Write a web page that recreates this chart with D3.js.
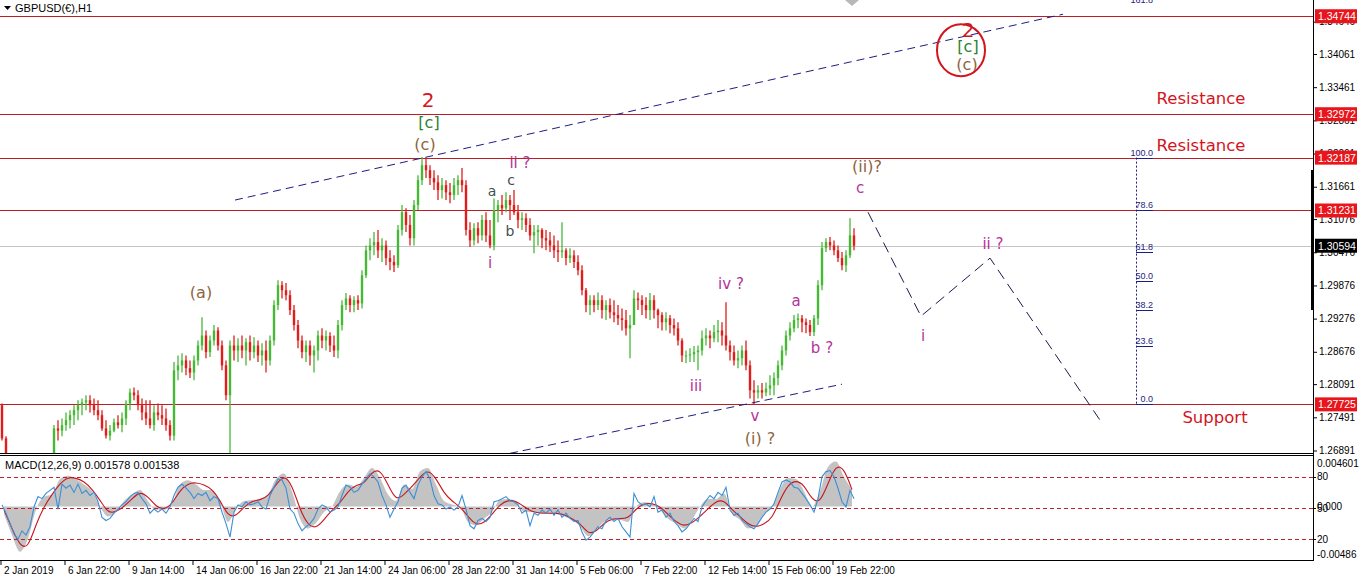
<!DOCTYPE html>
<html>
<head>
<meta charset="utf-8">
<script src="https://cdn.jsdelivr.net/npm/d3@7"></script>
<style>
  html, body { margin: 0; padding: 0; background: #fff; }
  svg { display: block; font-family: "Liberation Sans", Arial, sans-serif; }
</style>
</head>
<body>
<svg id="chart" width="1361" height="581"></svg>
<script>
// GBPUSD H1, 2 Jan – 20 Feb 2019, drawn as 4-hour bars (hour index 0 = 2 Jan 06:00)
const barHours = 4;
const firstOpen = 1.2771;
const highs = [
  1.2774,1.2715,1.2680,1.2662,1.2653,1.2635,1.2639,1.2644,1.2653,1.2657,
  1.2662,1.2668,1.2675,1.2735,1.2744,1.2747,1.2758,1.2762,1.2771,1.2780,
  1.2783,1.2789,1.2789,1.2783,1.2780,1.2762,1.2744,1.2735,1.2747,1.2753,
  1.2758,1.2780,1.2801,1.2803,1.2798,1.2783,1.2780,1.2780,1.2771,1.2774,
  1.2771,1.2765,1.2744,1.2849,1.2861,1.2865,1.2861,1.2852,1.2861,1.2888,
  1.2930,1.2906,1.2897,1.2916,1.2912,1.2888,1.2852,1.2888,1.2897,1.2892,
  1.2897,1.2892,1.2897,1.2894,1.2888,1.2883,1.2888,1.2897,1.2961,1.2997,
  1.2995,1.2992,1.2979,1.2952,1.2925,1.2897,1.2888,1.2888,1.2879,1.2906,
  1.2910,1.2906,1.2903,1.2897,1.2925,1.2961,1.2974,1.2970,1.2968,1.2970,
  1.3015,1.3060,1.3073,1.3084,1.3088,1.3073,1.3069,1.3051,1.3042,1.3097,
  1.3133,1.3127,1.3115,1.3142,1.3187,1.3220,1.3218,1.3205,1.3196,1.3187,
  1.3182,1.3178,1.3173,1.3182,1.3187,1.3200,1.3178,1.3102,1.3100,1.3102,
  1.3115,1.3120,1.3106,1.3145,1.3142,1.3151,1.3156,1.3151,1.3160,1.3133,
  1.3120,1.3118,1.3109,1.3097,1.3097,1.3091,1.3088,1.3084,1.3078,1.3069,
  1.3102,1.3055,1.3055,1.3051,1.3042,1.3024,1.2983,1.2970,1.2970,1.2975,
  1.2970,1.2961,1.2964,1.2961,1.2952,1.2946,1.2943,1.2934,1.2979,1.2975,
  1.2970,1.2966,1.2974,1.2970,1.2946,1.2939,1.2939,1.2934,1.2928,1.2921,
  1.2892,1.2870,1.2874,1.2878,1.2879,1.2906,1.2910,1.2906,1.2916,1.2925,
  1.2921,1.2957,1.2888,1.2879,1.2870,1.2879,1.2888,1.2852,1.2816,1.2807,
  1.2811,1.2812,1.2825,1.2830,1.2852,1.2879,1.2906,1.2921,1.2934,1.2937,
  1.2934,1.2928,1.2925,1.2934,1.2997,1.3066,1.3073,1.3075,1.3069,1.3060,
  1.3048,1.3051,1.3109,1.3091
];
const lows = [
  1.2707,1.2668,1.2644,1.2635,1.2490,1.2599,1.2613,1.2617,1.2621,1.2631,
  1.2635,1.2642,1.2650,1.2671,1.2707,1.2715,1.2725,1.2729,1.2735,1.2744,
  1.2753,1.2762,1.2758,1.2753,1.2744,1.2725,1.2711,1.2707,1.2722,1.2729,
  1.2722,1.2735,1.2762,1.2780,1.2762,1.2744,1.2735,1.2729,1.2725,1.2744,
  1.2735,1.2725,1.2707,1.2707,1.2816,1.2830,1.2825,1.2820,1.2816,1.2843,
  1.2870,1.2856,1.2858,1.2879,1.2870,1.2834,1.2780,1.2671,1.2852,1.2849,
  1.2856,1.2843,1.2852,1.2856,1.2849,1.2843,1.2830,1.2843,1.2879,1.2943,
  1.2964,1.2961,1.2934,1.2906,1.2874,1.2856,1.2849,1.2843,1.2830,1.2852,
  1.2874,1.2870,1.2867,1.2858,1.2856,1.2906,1.2943,1.2939,1.2939,1.2943,
  1.2946,1.3001,1.3033,1.3042,1.3037,1.3030,1.3024,1.3015,1.3012,1.3019,
  1.3078,1.3084,1.3060,1.3060,1.3124,1.3169,1.3182,1.3169,1.3160,1.3142,
  1.3145,1.3142,1.3136,1.3142,1.3151,1.3156,1.3078,1.3057,1.3060,1.3064,
  1.3069,1.3066,1.3055,1.3051,1.3102,1.3115,1.3120,1.3106,1.3115,1.3091,
  1.3088,1.3084,1.3069,1.3046,1.3060,1.3055,1.3051,1.3048,1.3037,1.3030,
  1.3037,1.3024,1.3028,1.3019,1.3006,1.2970,1.2939,1.2934,1.2939,1.2943,
  1.2928,1.2925,1.2928,1.2921,1.2916,1.2906,1.2897,1.2856,1.2916,1.2943,
  1.2934,1.2928,1.2925,1.2928,1.2910,1.2906,1.2906,1.2901,1.2897,1.2879,
  1.2849,1.2847,1.2849,1.2849,1.2834,1.2861,1.2879,1.2874,1.2885,1.2885,
  1.2879,1.2870,1.2852,1.2843,1.2838,1.2843,1.2834,1.2783,1.2773,1.2783,
  1.2783,1.2787,1.2789,1.2789,1.2807,1.2834,1.2861,1.2888,1.2903,1.2910,
  1.2903,1.2901,1.2896,1.2896,1.2916,1.2979,1.3048,1.3051,1.3042,1.3030,
  1.3015,1.3012,1.3037,1.3051
];
const closes = [
  1.2711,1.2675,1.2653,1.2644,1.2617,1.2626,1.2631,1.2635,1.2642,1.2650,
  1.2653,1.2660,1.2668,1.2729,1.2725,1.2735,1.2744,1.2753,1.2762,1.2771,
  1.2776,1.2780,1.2771,1.2762,1.2753,1.2729,1.2716,1.2725,1.2740,1.2735,
  1.2747,1.2774,1.2794,1.2789,1.2771,1.2758,1.2747,1.2735,1.2758,1.2753,
  1.2747,1.2735,1.2716,1.2834,1.2843,1.2852,1.2838,1.2830,1.2852,1.2879,
  1.2897,1.2867,1.2888,1.2906,1.2879,1.2843,1.2789,1.2879,1.2870,1.2879,
  1.2870,1.2885,1.2867,1.2879,1.2861,1.2870,1.2852,1.2888,1.2952,1.2988,
  1.2979,1.2970,1.2943,1.2916,1.2888,1.2867,1.2879,1.2861,1.2870,1.2897,
  1.2888,1.2896,1.2879,1.2870,1.2916,1.2952,1.2964,1.2952,1.2961,1.2955,
  1.3006,1.3051,1.3060,1.3066,1.3051,1.3060,1.3037,1.3030,1.3024,1.3088,
  1.3120,1.3097,1.3073,1.3133,1.3178,1.3205,1.3196,1.3182,1.3174,1.3160,
  1.3169,1.3156,1.3151,1.3169,1.3178,1.3169,1.3088,1.3069,1.3091,1.3078,
  1.3106,1.3078,1.3060,1.3124,1.3133,1.3127,1.3142,1.3133,1.3120,1.3106,
  1.3109,1.3097,1.3078,1.3084,1.3088,1.3073,1.3069,1.3060,1.3051,1.3048,
  1.3051,1.3037,1.3042,1.3030,1.3015,1.2979,1.2952,1.2961,1.2952,1.2961,
  1.2943,1.2952,1.2939,1.2934,1.2928,1.2925,1.2910,1.2916,1.2964,1.2961,
  1.2952,1.2943,1.2961,1.2943,1.2934,1.2921,1.2928,1.2916,1.2910,1.2888,
  1.2861,1.2861,1.2863,1.2867,1.2870,1.2892,1.2897,1.2892,1.2903,1.2906,
  1.2897,1.2879,1.2867,1.2852,1.2856,1.2870,1.2843,1.2798,1.2794,1.2798,
  1.2794,1.2801,1.2807,1.2820,1.2843,1.2870,1.2897,1.2910,1.2925,1.2928,
  1.2921,1.2916,1.2903,1.2928,1.2988,1.3055,1.3066,1.3060,1.3051,1.3037,
  1.3024,1.3042,1.3078,1.30594
];

// MACD(12,26,9): main (histogram) and signal, one value every 8 hours
const macdStep = 8;
const macdHist = [
  -0.0007,-0.0026,-0.0041,-0.0029,-0.0003,0.0009,0.0011,0.0025,0.0028,0.0025,
  0.0020,0.0014,0.0000,-0.0009,-0.0005,0.0005,0.0011,0.0015,0.0005,-0.0003,
  -0.0003,0.0002,0.0020,0.0024,0.0020,0.0015,0.0015,0.0005,-0.0014,-0.0002,
  0.0005,0.0006,0.0007,0.0011,0.0025,0.0030,0.0014,-0.0011,-0.0020,-0.0015,
  -0.0005,0.0000,0.0014,0.0020,0.0018,0.0026,0.0035,0.0026,0.0011,0.0005,
  0.0020,0.0016,0.0032,0.0035,0.0020,0.0005,0.0002,0.0000,-0.0014,-0.0017,
  -0.0011,-0.0005,0.0006,0.0007,0.0005,-0.0005,-0.0005,-0.0006,-0.0005,-0.0006,
  -0.0009,-0.0012,-0.0018,-0.0027,-0.0021,-0.0014,-0.0011,-0.0012,-0.0014,0.0000,
  0.0004,0.0003,-0.0003,-0.0011,-0.0015,-0.0020,-0.0012,0.0000,0.0007,0.0007,
  0.0012,-0.0006,-0.0012,-0.0020,-0.0018,-0.0007,0.0000,0.0016,0.0026,0.0025,
  0.0014,0.0000,0.0014,0.0036,0.0041,0.0027,0.001578
];
const macdSignal = [
  -0.0003,-0.0020,-0.0036,-0.0038,-0.0016,0.0000,0.0011,0.0021,0.0027,0.0026,
  0.0023,0.0016,0.0006,-0.0006,-0.0005,0.0000,0.0007,0.0014,0.0009,0.0000,
  -0.0003,0.0002,0.0015,0.0021,0.0022,0.0020,0.0016,0.0006,-0.0009,-0.0009,
  0.0000,0.0005,0.0006,0.0009,0.0020,0.0029,0.0020,-0.0003,-0.0017,-0.0020,
  -0.0012,-0.0003,0.0003,0.0014,0.0020,0.0020,0.0032,0.0034,0.0020,0.0005,
  0.0011,0.0018,0.0027,0.0034,0.0026,0.0012,0.0005,0.0000,-0.0009,-0.0017,
  -0.0015,-0.0007,0.0002,0.0006,0.0005,0.0000,-0.0005,-0.0006,-0.0006,-0.0006,
  -0.0007,-0.0011,-0.0015,-0.0025,-0.0023,-0.0015,-0.0011,-0.0011,-0.0011,-0.0002,
  0.0003,0.0003,0.0000,-0.0007,-0.0014,-0.0018,-0.0015,-0.0009,-0.0002,0.0005,
  0.0006,-0.0003,-0.0009,-0.0016,-0.0019,-0.0016,-0.0011,0.0006,0.0020,0.0024,
  0.0020,0.0006,0.0003,0.0021,0.0038,0.0035,0.001538
];
const macdRange = [-0.00486, 0.004601];

// oscillator line in the MACD window, 0–100 scale, one value every 4 hours
const oscLine = [
  53,45,35,25,20,28,24,32,51,61, 59,64,67,70,49,73,69,72,65,73,
  64,67,62,65,56,41,38,40,45,49, 53,56,61,64,65,59,54,45,49,46,
  49,45,51,62,70,73,69,65,59,64, 62,65,57,61,59,46,35,22,46,53,
  51,56,53,54,56,51,49,62,70,78, 77,69,49,45,35,28,32,35,40,49,
  53,51,46,48,51,62,72,70,65,67, 73,78,83,80,75,62,53,41,49,56,
  69,72,65,59,72,80,85,78,62,54, 53,49,51,48,51,62,49,33,30,38,
  40,37,41,56,57,59,61,57,56,53, 45,48,33,45,43,48,45,49,43,48,
  41,45,40,37,38,27,19,22,27,32, 30,38,41,37,40,32,27,22,64,56,
  53,54,51,61,46,48,41,45,37,33, 27,30,35,40,37,51,57,62,59,65,
  62,70,48,43,45,38,35,32,30,35, 41,46,49,54,65,75,77,75,70,69,
  64,59,53,46,59,80,85,86,80,69, 56,51,67,59
];
const oscLevels = [80, 50, 20];

// time axis: one label every 64 hours
const timeLabels = ["2 Jan 2019","6 Jan 22:00","9 Jan 14:00","14 Jan 06:00","16 Jan 22:00",
  "21 Jan 14:00","24 Jan 06:00","28 Jan 22:00","31 Jan 14:00","5 Feb 06:00","7 Feb 22:00",
  "12 Feb 14:00","15 Feb 06:00","19 Feb 22:00"];
const timeTickStep = 64;

// price axis labels
const priceTicks = [1.34646,1.34061,1.33461,1.32861,1.32261,1.31661,1.31076,
  1.30476,1.29876,1.29276,1.28676,1.28091,1.27491,1.26891];

// horizontal support / resistance levels
const levels = [1.34744, 1.32972, 1.32187, 1.31231, 1.27725];

// Fibonacci retracement from the 1.32187 high to the 1.27725 low
const fibHigh = 1.32187, fibLow = 1.27725, fibHour = 1136;
const fibRatios = [161.8, 100.0, 78.6, 61.8, 50.0, 38.2, 23.6, 0.0];

// trend channel and projected path  [hour, price]
const upperTrend = [[235, 1.3142], [1063, 1.3478]];
const lowerTrend = [[510, 1.2684], [842, 1.2809]];
const projection = [[868, 1.3120], [921, 1.2932], [990, 1.3037], [1100, 1.2744]];

// wave count labels  [text, hour, price, kind]
const waveLabels = [
  ["2", 428, 1.3323, "red"], ["[c]", 429, 1.3283, "green"], ["(c)", 425, 1.3243, "brown"],
  ["ii ?", 520, 1.3209, "purple"], ["a", 492, 1.3158, "grey"], ["c", 511, 1.3178, "grey"],
  ["b", 510, 1.3086, "grey"], ["i", 490, 1.3028, "purple"], ["(a)", 201, 1.2975, "brown"],
  ["iii", 696, 1.2806, "purple"], ["iv ?", 731, 1.2990, "purple"], ["v", 755, 1.2751, "purple"],
  ["(i) ?", 760, 1.2711, "brown"], ["a", 796, 1.2959, "purple"], ["b ?", 822, 1.2874, "purple"],
  ["(ii)?", 867, 1.3202, "brown"], ["c", 860, 1.3164, "purple"], ["i", 923, 1.2897, "purple"],
  ["ii ?", 993, 1.3062, "purple"],
  ["2", 968, 1.3450, "red"], ["[c]", 968, 1.3419, "green"], ["(c)", 967, 1.3388, "brown"]
];
const ringCentre = [961, 1.3413];
const zoneLabels = [["Resistance", 1201, 1.3326], ["Resistance", 1201, 1.3241], ["Support", 1215, 1.2749]];

const symbolTitle = "GBPUSD(€),H1";

// ---------------------------------------------------------------------------
const svg = d3.select("#chart");
const plotRight = 1313;
const mainBottom = 453, subTop = 456, subBottom = 560;

const x = d3.scaleLinear().domain([0, plotRight]).range([0, plotRight]);
const y = d3.scaleLinear().domain([1.26891, 1.34061]).range([450.5, 54]);
const yMacd = d3.scaleLinear().domain(macdRange).range([subBottom, subTop]);
const yOsc = d3.scaleLinear().domain([0, 100]).range([subBottom, subTop]);

const colors = {
  red: "#d3151d", green: "#2f7f34", brown: "#8d6440", purple: "#b3339a", grey: "#3f4f50",
  level: "#bb1f25", up: "#45b936", down: "#e21b1b", navy: "#1d1d80"
};
const sizes = { red: 20, green: 16, brown: 16, purple: 15, grey: 14 };

const defs = svg.append("defs");
defs.append("clipPath").attr("id", "mainClip").append("rect")
  .attr("x", 0).attr("y", 0).attr("width", plotRight).attr("height", mainBottom);
defs.append("clipPath").attr("id", "subClip").append("rect")
  .attr("x", 0).attr("y", subTop).attr("width", plotRight).attr("height", subBottom - subTop);

const main = svg.append("g").attr("clip-path", "url(#mainClip)");

// current price line
const lastPrice = closes[closes.length - 1];
main.append("line").attr("x1", 0).attr("x2", plotRight)
  .attr("y1", Math.round(y(lastPrice)) + 0.5).attr("y2", Math.round(y(lastPrice)) + 0.5)
  .attr("stroke", "#c4c4c4");

// support / resistance lines
main.selectAll(".lvl").data(levels).join("line")
  .attr("x1", 0).attr("x2", plotRight)
  .attr("y1", d => Math.round(y(d)) + 0.5).attr("y2", d => Math.round(y(d)) + 0.5)
  .attr("stroke", colors.level).attr("stroke-width", 1);

// bars: high-low stroke plus open-close body
const bars = closes.map((c, i) => ({
  h: i * barHours + barHours / 2,
  o: i === 0 ? firstOpen : closes[i - 1],
  hi: highs[i], lo: lows[i], c
}));
const barColor = d => d.c >= d.o ? colors.up : colors.down;
const barG = main.append("g");
barG.selectAll("line").data(bars).join("line")
  .attr("x1", d => x(d.h)).attr("x2", d => x(d.h))
  .attr("y1", d => y(d.hi)).attr("y2", d => y(d.lo))
  .attr("stroke", barColor).attr("stroke-width", 1.3);
barG.selectAll("rect").data(bars).join("rect")
  .attr("x", d => x(d.h) - 1.2).attr("width", 2.4)
  .attr("y", d => Math.min(y(d.o), y(d.c)))
  .attr("height", d => Math.max(1, Math.abs(y(d.o) - y(d.c))))
  .attr("fill", barColor);

// trend channel and projection
const line = d3.line().x(d => x(d[0])).y(d => y(d[1]));
main.append("path").attr("d", line(upperTrend)).attr("fill", "none")
  .attr("stroke", colors.navy).attr("stroke-dasharray", "8,5");
main.append("path").attr("d", line(lowerTrend)).attr("fill", "none")
  .attr("stroke", colors.navy).attr("stroke-dasharray", "8,5");
main.append("path").attr("d", line(projection)).attr("fill", "none")
  .attr("stroke", "#1a1a50").attr("stroke-width", 1).attr("stroke-dasharray", "11,6");

// Fibonacci retracement
const fibPrice = r => fibLow + (fibHigh - fibLow) * r / 100;
main.append("line").attr("x1", x(fibHour) + 0.5).attr("x2", x(fibHour) + 0.5)
  .attr("y1", y(fibHigh)).attr("y2", y(fibLow))
  .attr("stroke", colors.navy).attr("stroke-dasharray", "2,2");
const fibG = main.append("g");
fibG.selectAll("line").data(fibRatios.filter(r => r <= 100)).join("line")
  .attr("x1", x(fibHour)).attr("x2", x(fibHour) + 17)
  .attr("y1", d => Math.round(y(fibPrice(d))) + 0.5).attr("y2", d => Math.round(y(fibPrice(d))) + 0.5)
  .attr("stroke", colors.navy);
fibG.selectAll("text").data(fibRatios).join("text")
  .attr("x", x(fibHour) + 17).attr("y", d => y(fibPrice(d)) - 2)
  .attr("text-anchor", "end").attr("font-size", 9).attr("fill", colors.navy)
  .text(d => d.toFixed(1));

// chart shift marker
main.append("path").attr("d", "M845,0 L859,0 L852,6 Z").attr("fill", "#b8b8b8");

// wave labels
main.selectAll(".wave").data(waveLabels).join("text")
  .attr("x", d => x(d[1])).attr("y", d => y(d[2]))
  .attr("text-anchor", "middle").attr("dominant-baseline", "central")
  .attr("font-family", "'DejaVu Sans', Verdana, sans-serif")
  .attr("font-size", d => sizes[d[3]]).attr("fill", d => colors[d[3]])
  .text(d => d[0]);
main.append("ellipse").attr("cx", x(ringCentre[0])).attr("cy", y(ringCentre[1]))
  .attr("rx", 24).attr("ry", 26).attr("fill", "none")
  .attr("stroke", colors.red).attr("stroke-width", 2);
main.selectAll(".zone").data(zoneLabels).join("text")
  .attr("x", d => x(d[1])).attr("y", d => y(d[2]))
  .attr("text-anchor", "middle").attr("dominant-baseline", "central")
  .attr("font-family", "'DejaVu Sans', Verdana, sans-serif")
  .attr("font-size", 16.5).attr("fill", colors.red)
  .text(d => d[0]);

// title
svg.append("path").attr("d", "M4,6 L11,6 L7.5,10 Z").attr("fill", "#000");
svg.append("text").attr("x", 15).attr("y", 12).attr("font-size", 11).attr("fill", "#000")
  .text(symbolTitle);

// ---- MACD window -----------------------------------------------------------
const sub = svg.append("g").attr("clip-path", "url(#subClip)");
const macdPts = macdHist.map((v, i) => [i * macdStep + macdStep / 2, v]);
const sigPts = macdSignal.map((v, i) => [i * macdStep + macdStep / 2, v]);
sub.append("path")
  .attr("d", d3.area().x(d => x(d[0])).y0(yMacd(0)).y1(d => yMacd(d[1])).curve(d3.curveMonotoneX)(macdPts))
  .attr("fill", "#c3c3c3");
sub.selectAll(".olvl").data(oscLevels).join("line")
  .attr("x1", 0).attr("x2", plotRight)
  .attr("y1", d => Math.round(yOsc(d)) + 0.5).attr("y2", d => Math.round(yOsc(d)) + 0.5)
  .attr("stroke", "#b8222a").attr("stroke-dasharray", "4,3");
sub.append("path")
  .attr("d", d3.line().x(d => x(d[0])).y(d => yMacd(d[1])).curve(d3.curveBasis)(sigPts))
  .attr("fill", "none").attr("stroke", "#c8161e").attr("stroke-width", 1.1);
sub.append("path")
  .attr("d", d3.line().x((d, i) => x(i * barHours + barHours / 2)).y(d => yOsc(d))(oscLine))
  .attr("fill", "none").attr("stroke", "#3b8fd6").attr("stroke-width", 1.1);

const f6 = d3.format(".6f");
svg.append("text").attr("x", 5).attr("y", 469).attr("font-size", 11).attr("fill", "#000")
  .text(`MACD(12,26,9) ${f6(macdHist[macdHist.length - 1])} ${f6(macdSignal[macdSignal.length - 1])}`);

// ---- frames ---------------------------------------------------------------
const frame = svg.append("g").attr("stroke", "#000").attr("shape-rendering", "crispEdges");
frame.append("line").attr("x1", 0).attr("x2", plotRight).attr("y1", mainBottom + 0.5).attr("y2", mainBottom + 0.5);
frame.append("line").attr("x1", 0).attr("x2", plotRight).attr("y1", subTop - 0.5).attr("y2", subTop - 0.5);
frame.append("line").attr("x1", 0).attr("x2", plotRight).attr("y1", subBottom + 0.5).attr("y2", subBottom + 0.5);
frame.append("line").attr("x1", plotRight + 0.5).attr("x2", plotRight + 0.5).attr("y1", 0).attr("y2", subBottom + 0.5);
svg.append("rect").attr("x", plotRight - 2).attr("y", 170).attr("width", 3).attr("height", 140).attr("fill", "#000");

// price axis
const priceAxis = d3.axisRight(y).tickValues(priceTicks).tickSize(4).tickPadding(2)
  .tickFormat(d3.format(".5f"));
const pa = svg.append("g").attr("transform", `translate(${plotRight},0)`).call(priceAxis);
pa.select(".domain").remove();
pa.selectAll("text").attr("font-size", 10).attr("font-family", "'Liberation Sans', Arial, sans-serif").attr("fill", "#000");

// level price tags
const tag = (price, fill) => {
  const g = svg.append("g");
  g.append("rect").attr("x", plotRight + 2).attr("y", y(price) - 7).attr("width", 42).attr("height", 14).attr("fill", fill);
  g.append("text").attr("x", plotRight + 5).attr("y", y(price)).attr("dominant-baseline", "central")
    .attr("font-size", 10.5).attr("fill", "#fff").text(d3.format(".5f")(price));
};
levels.forEach(p => tag(p, "#e8161c"));
tag(lastPrice, "#000");

// MACD window scale
const subLabels = [
  [yMacd(macdRange[1]) + 7, f6(macdRange[1])],
  [yOsc(oscLevels[0]), String(oscLevels[0])],
  [yOsc(oscLevels[1]), String(oscLevels[1])],
  [yMacd(0), "0.000"],
  [yOsc(oscLevels[2]), String(oscLevels[2])],
  [yMacd(macdRange[0]) - 6, String(macdRange[0])]
];
svg.selectAll(".sublab").data(subLabels).join("text")
  .attr("x", plotRight + 4).attr("y", d => d[0]).attr("dominant-baseline", "central")
  .attr("font-size", 10).attr("fill", "#000").text(d => d[1]);
svg.selectAll(".subtick").data(oscLevels).join("line")
  .attr("x1", plotRight).attr("x2", plotRight + 3)
  .attr("y1", d => Math.round(yOsc(d)) + 0.5).attr("y2", d => Math.round(yOsc(d)) + 0.5)
  .attr("stroke", "#000");

// time axis
const timeAxis = d3.axisBottom(x).tickValues(timeLabels.map((_, i) => i * timeTickStep))
  .tickSize(5).tickPadding(3).tickFormat((d, i) => timeLabels[i]);
const ta = svg.append("g").attr("transform", `translate(0.5,${subBottom})`).call(timeAxis);
ta.select(".domain").remove();
ta.selectAll("text").attr("text-anchor", "start").attr("dx", 3).attr("dy", "0.55em")
  .attr("font-size", 10).attr("font-family", "'Liberation Sans', Arial, sans-serif").attr("fill", "#000");
</script>
</body>
</html>
